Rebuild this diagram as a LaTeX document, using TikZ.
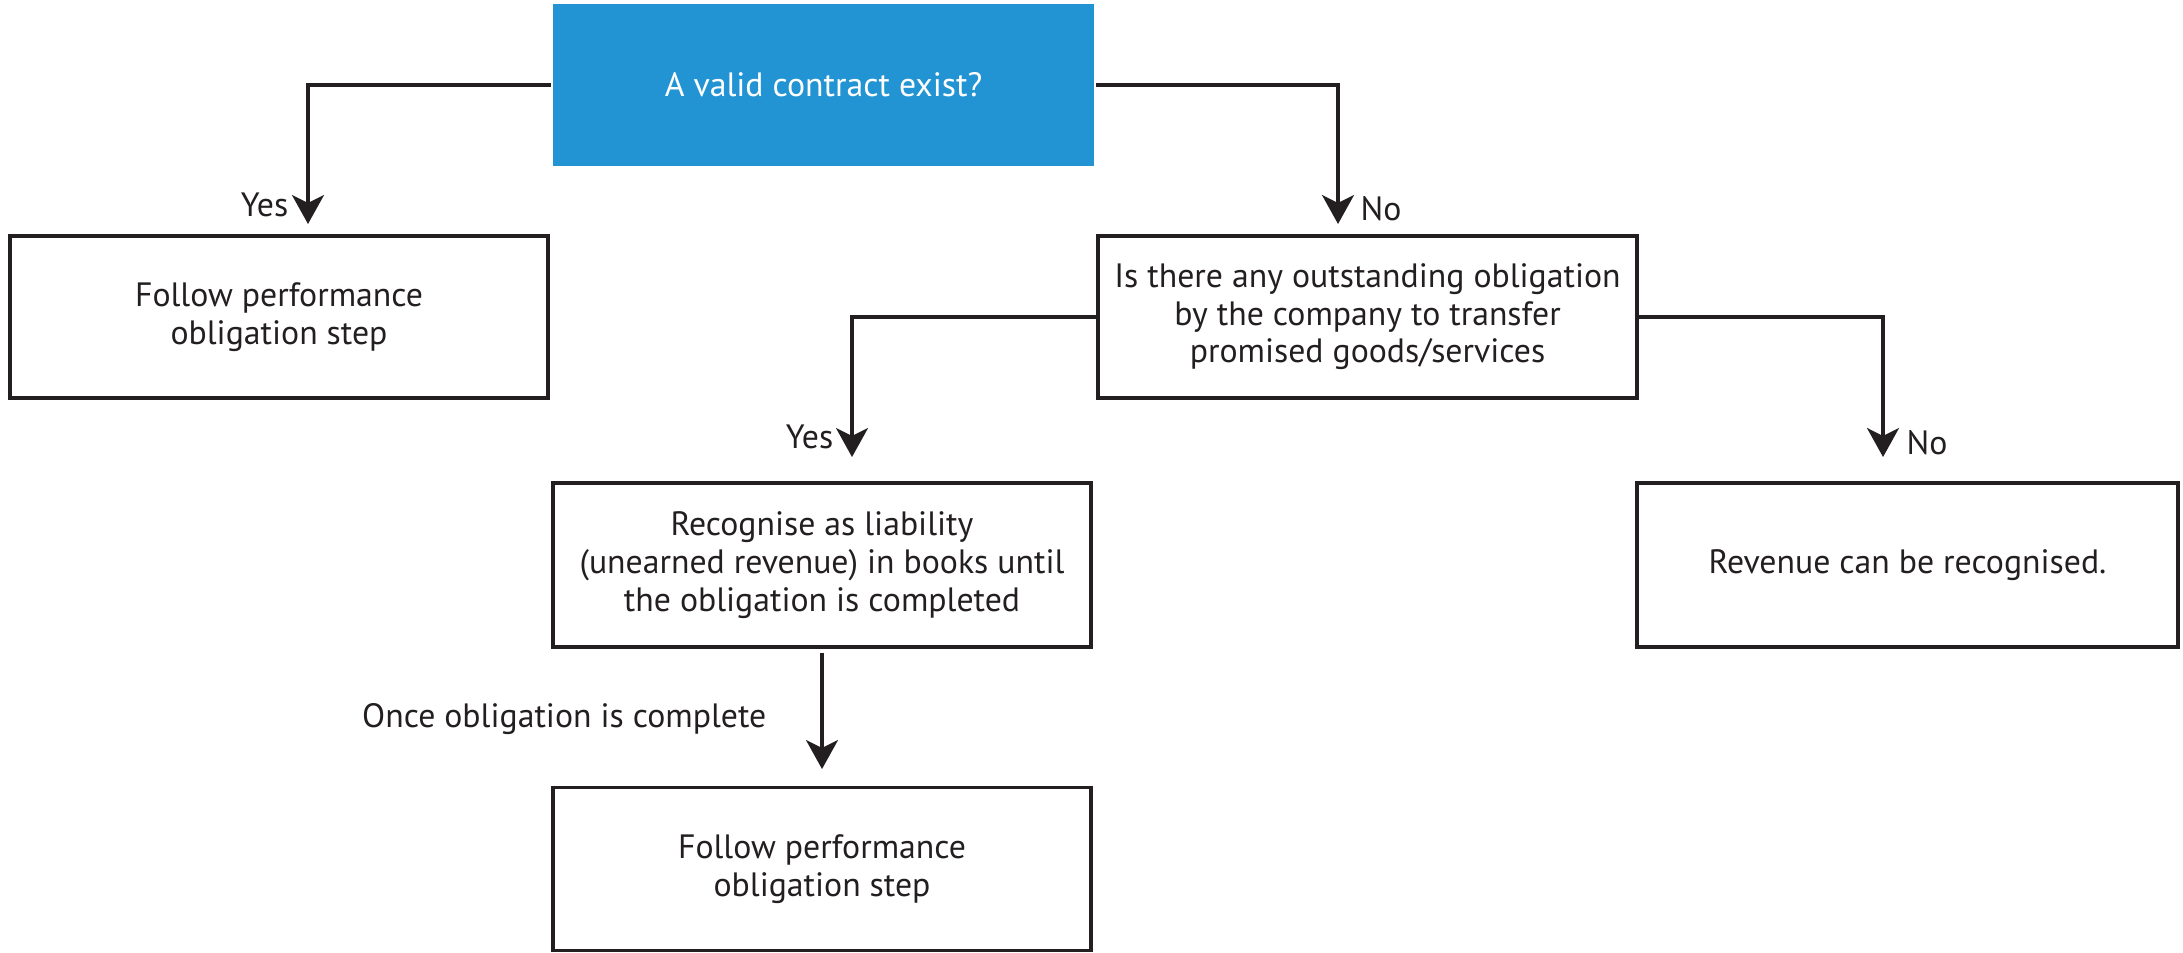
\documentclass[tikz,border=0pt]{standalone}
\usepackage{fontspec}
\setmainfont{PT Sans}
\usetikzlibrary{arrows.meta, positioning}
\definecolor{qblue}{HTML}{2394D3}
\definecolor{ink}{HTML}{231F20}

\begin{document}
\begin{tikzpicture} [x=0.01cm, y=-0.01cm, text=ink,
  font=\fontsize{9.6}{10.7}\selectfont,
  box/.style={draw=ink, line width=1.1pt, minimum width=5.38cm, minimum height=1.62cm, align=center, inner sep=0pt},
  qbox/.style={box, draw=none, fill=qblue, text=white, minimum width=5.41cm},
  arr/.style={draw=ink, line width=0.9pt, -{Stealth[length=0.29cm, width=0.32cm, inset=0.08cm]}},
  lbl/.style={inner sep=0pt}]
\useasboundingbox (0,0) rectangle (2183,952);
\node (q1) [qbox] at (823.5,85) {A valid contract exist?};
\node (f1) [box] at (279,317) {Follow performance\\obligation step};
\node (q2) [box] at (1367.5,317) {Is there any outstanding obligation\\by the company to transfer\\promised goods/services};
\node (rec) [box, minimum height=1.64cm] at (822,565) {Recognise as liability\\(unearned revenue) in books until\\the obligation is completed};
\node (rev) [box, minimum width=5.41cm, minimum height=1.64cm] at (1907.5,565) {Revenue can be recognised.};
\node (f2) [box, minimum height=1.63cm] at (822,869) {Follow performance\\obligation step};
% arrow ends
\coordinate (t1) at (308,224);
\coordinate (t2) at (1338,224);
\coordinate (t3) at (852,457);
\coordinate (t4) at (1883,457);
\coordinate (t5) at (822,769);
\draw [arr] (q1.west) -| (t1);
\draw [arr] (q1.east) -| (t2);
\draw [arr] (q2.west) -| (t3);
\draw [arr] (q2.east) -| (t4);
\draw [arr] ([yshift=-0.04cm]rec.south) -- (t5);
% labels
\node (yes1) [lbl, anchor=base east] at (289,217) {Yes};
\node (no1) [lbl, anchor=base west] at (1360,221) {No};
\node (yes2) [lbl, anchor=base east] at (834,448) {Yes};
\node (no2) [lbl, anchor=base west] at (1906,454) {No};
\node (once) [lbl, anchor=base east] at (767,727) {Once obligation is complete};
\end{tikzpicture}
\end{document}
